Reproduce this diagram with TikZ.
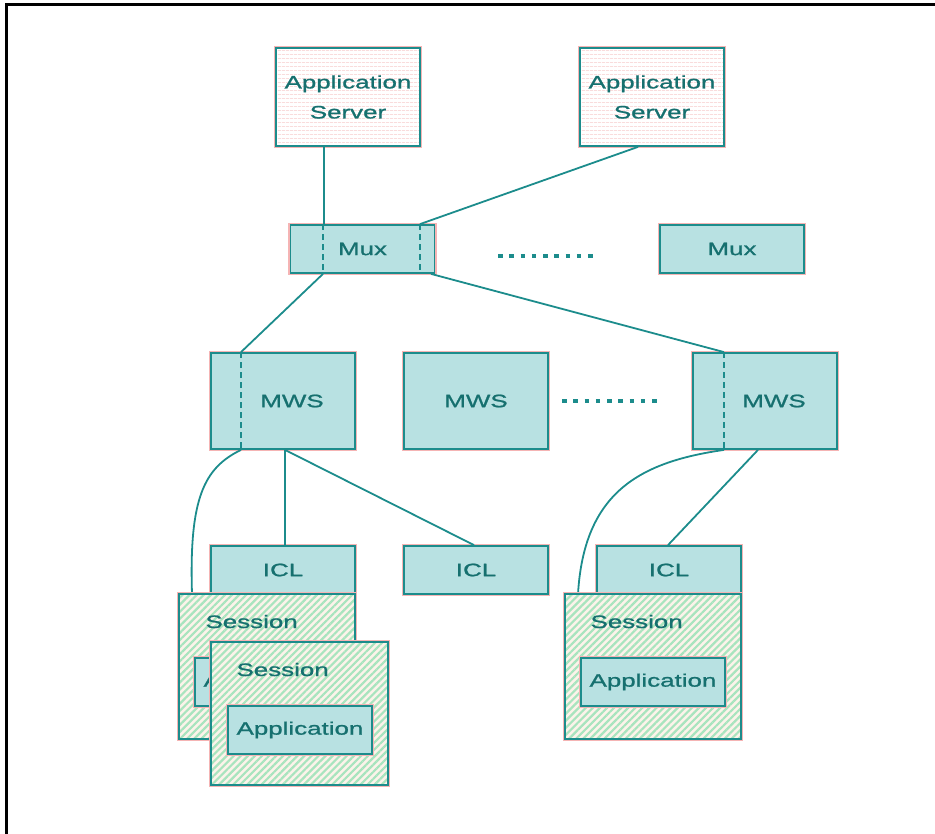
\documentclass[tikz,border=0pt]{standalone}
\usepackage{fontspec}
\setmainfont{Liberation Sans}
\newfontfamily\diagfont[FakeStretch=1.44,FakeBold=1.1]{Liberation Sans}
\usetikzlibrary{patterns.meta}
\definecolor{edge}{HTML}{1C8C8C}
\definecolor{boxfill}{HTML}{B8E1E2}
\definecolor{ink}{HTML}{16706F}
\definecolor{halo}{HTML}{F5B4B4}
\definecolor{stripe}{HTML}{A8E4BE}
\definecolor{sessbase}{HTML}{FCF3EA}
\definecolor{srvline}{HTML}{F7CACA}
\begin{document}
\begin{tikzpicture}[x=1pt,y=-1pt,
  every node/.style={font=\diagfont\fontsize{18}{30}\selectfont, text=ink},
  unit/.style={draw=edge, line width=1.8pt, inner sep=0pt,
    preaction={draw=halo, line width=4.6pt}},
  plain/.style={unit, fill=boxfill, minimum width=144pt, minimum height=48pt},
  tall/.style={plain, minimum height=96pt},
  server/.style={unit, minimum width=144pt, minimum height=98pt, align=center,
    preaction={fill=white},
    preaction={pattern={Lines[angle=0,distance=4pt,line width=0.9pt]}, pattern color=srvline}},
  session/.style={unit, minimum width=176pt, minimum height=145pt,
    preaction={fill=sessbase},
    preaction={pattern={Lines[angle=45,distance=5pt,line width=2.2pt]}, pattern color=stripe}},
  link/.style={draw=edge, line width=1.8pt},
  inner/.style={draw=edge, line width=1.8pt, dash pattern=on 6pt off 4pt},
  dotrow/.style={draw=edge, line width=4.5pt, dash pattern=on 4.5pt off 6.75pt}
]
\useasboundingbox (0,0) rectangle (935,834);

% page frame
\draw[line width=3pt] (6,834) -- (6,5) -- (935,5);

% application servers
\node[server] (srv1) at (348,97) {Application\\Server};
\node[server] (srv2) at (652,97) {Application\\Server};

% multiplexers
\node[plain] (mux1) at (362.5,249) {Mux};
\node[plain] (mux2) at (732,249) {Mux};
\coordinate (dotA) at (498,256);
\coordinate (dotB) at (593,256);
\draw[dotrow] (dotA) -- (dotB);

% MWS row
\node[tall] (mws1) at (283,401) {\hspace*{18pt}MWS};
\node[tall] (mws2) at (476,401) {MWS};
\node[tall] (mws3) at (765,401) {\hspace*{18pt}MWS};
\coordinate (dotC) at (562,401);
\coordinate (dotD) at (657,401);
\draw[dotrow] (dotC) -- (dotD);

% ICL row
\node[plain] (icl1) at (283,570) {ICL};
\node[plain] (icl2) at (476,570) {ICL};
\node[plain] (icl3) at (669,570) {ICL};

% internal splits
\coordinate (mA) at (323,0);
\coordinate (mB) at (420,0);
\coordinate (wA) at (241,0);
\coordinate (wB) at (724,0);
\draw[inner] (mux1.north -| mA) -- (mux1.south -| mA);
\draw[inner] (mux1.north -| mB) -- (mux1.south -| mB);
\draw[inner] (mws1.north -| wA) -- (mws1.south -| wA);
\draw[inner] (mws3.north -| wB) -- (mws3.south -| wB);

% connectors
\coordinate (s1x) at (324,0);
\coordinate (s2x) at (638,0);
\coordinate (mOut) at (431,0);
\coordinate (w1x) at (285,0);
\coordinate (w3x) at (758,0);
\coordinate (i2x) at (474,0);
\coordinate (i3x) at (668,0);
\coordinate (c1) at (192,594);
\coordinate (c3) at (578,594);
\draw[link] (srv1.south -| s1x) -- (mux1.north -| s1x);
\draw[link] (srv2.south -| s2x) -- (mux1.north -| mB);
\draw[link] (mux1.south -| mA) -- (mws1.north -| wA);
\draw[link] (mux1.south -| mOut) -- (mws3.north -| wB);
\draw[link] (mws1.south -| w1x) -- (icl1.north -| w1x);
\draw[link] (mws1.south -| w1x) -- (icl2.north -| i2x);
\draw[link] (mws3.south -| w3x) -- (icl3.north -| i3x);
\draw[link] (mws1.south -| wA) .. controls (204,468) and (189,498) .. (c1);
\draw[link] (mws3.south -| wB) .. controls (640,462) and (584,492) .. (c3);

% sessions with their applications
\node[session] (ses1) at (267,666.5) {};
\node[anchor=base west] (ses1t) at (202,628) {Session};
\node[plain] (app1) at (267,682) {Application};
\node[session, minimum width=177pt, minimum height=143pt] (ses2) at (299.5,713.5) {};
\node[anchor=base west] (ses2t) at (233,676) {Session};
\node[plain] (app2) at (300,730) {Application};
\node[session] (ses3) at (653,666.5) {};
\node[anchor=base west] (ses3t) at (587,628) {Session};
\node[plain] (app3) at (653,682) {Application};
\end{tikzpicture}
\end{document}
